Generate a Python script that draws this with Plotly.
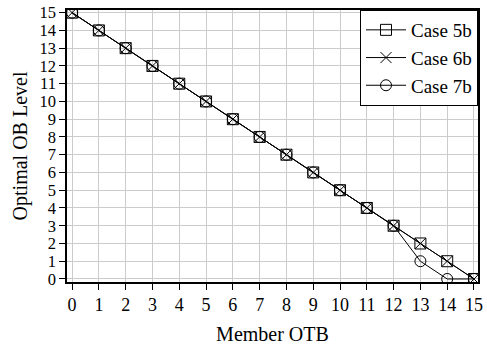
import plotly.graph_objects as go

member_otb = list(range(16))
case_5b = [15, 14, 13, 12, 11, 10, 9, 8, 7, 6, 5, 4, 3, 2, 1, 0]
case_6b = [15, 14, 13, 12, 11, 10, 9, 8, 7, 6, 5, 4, 3, 2, 1, 0]
case_7b = [15, 14, 13, 12, 11, 10, 9, 8, 7, 6, 5, 4, 3, 1, 0, 0]

font_family = "Liberation Serif"

fig = go.Figure()
series = [
    ("Case 5b", case_5b, "square-open"),
    ("Case 6b", case_6b, "x-thin-open"),
    ("Case 7b", case_7b, "circle-open"),
]
for name, ys, sym in series:
    fig.add_trace(go.Scatter(
        x=member_otb, y=ys, name=name, mode="lines+markers",
        line=dict(color="black", width=1),
        marker=dict(symbol=sym, size=11, color="black",
                    line=dict(color="black", width=1)),
    ))

axis_common = dict(
    showline=True, linecolor="black", linewidth=1.5, mirror=True,
    ticks="outside", ticklen=6, tickcolor="black", tickwidth=1,
    showgrid=True, gridcolor="#cccccc", gridwidth=1,
    zeroline=False, dtick=1, automargin=False,
)

fig.update_layout(
    width=487, height=345,
    margin=dict(l=67, r=9, t=10, b=63),
    plot_bgcolor="white", paper_bgcolor="white",
    font=dict(family=font_family, color="black"),
    xaxis=dict(range=[-0.19, 15.15], tick0=0,
               tickfont=dict(family=font_family, size=18, color="black"),
               title=dict(text="Member OTB", font=dict(size=20), standoff=15),
               **axis_common),
    yaxis=dict(range=[-0.17, 15.15], tick0=0,
               tickfont=dict(family=font_family, size=16.5, color="black"),
               title=dict(text="Optimal OB Level", font=dict(size=20), standoff=6),
               **axis_common),
    legend=dict(x=1, y=1, xanchor="right", yanchor="top",
                bgcolor="white", bordercolor="black", borderwidth=1,
                font=dict(family=font_family, size=19),
                itemwidth=40, tracegroupgap=0),
    showlegend=True,
)

fig.write_html("out.html")
